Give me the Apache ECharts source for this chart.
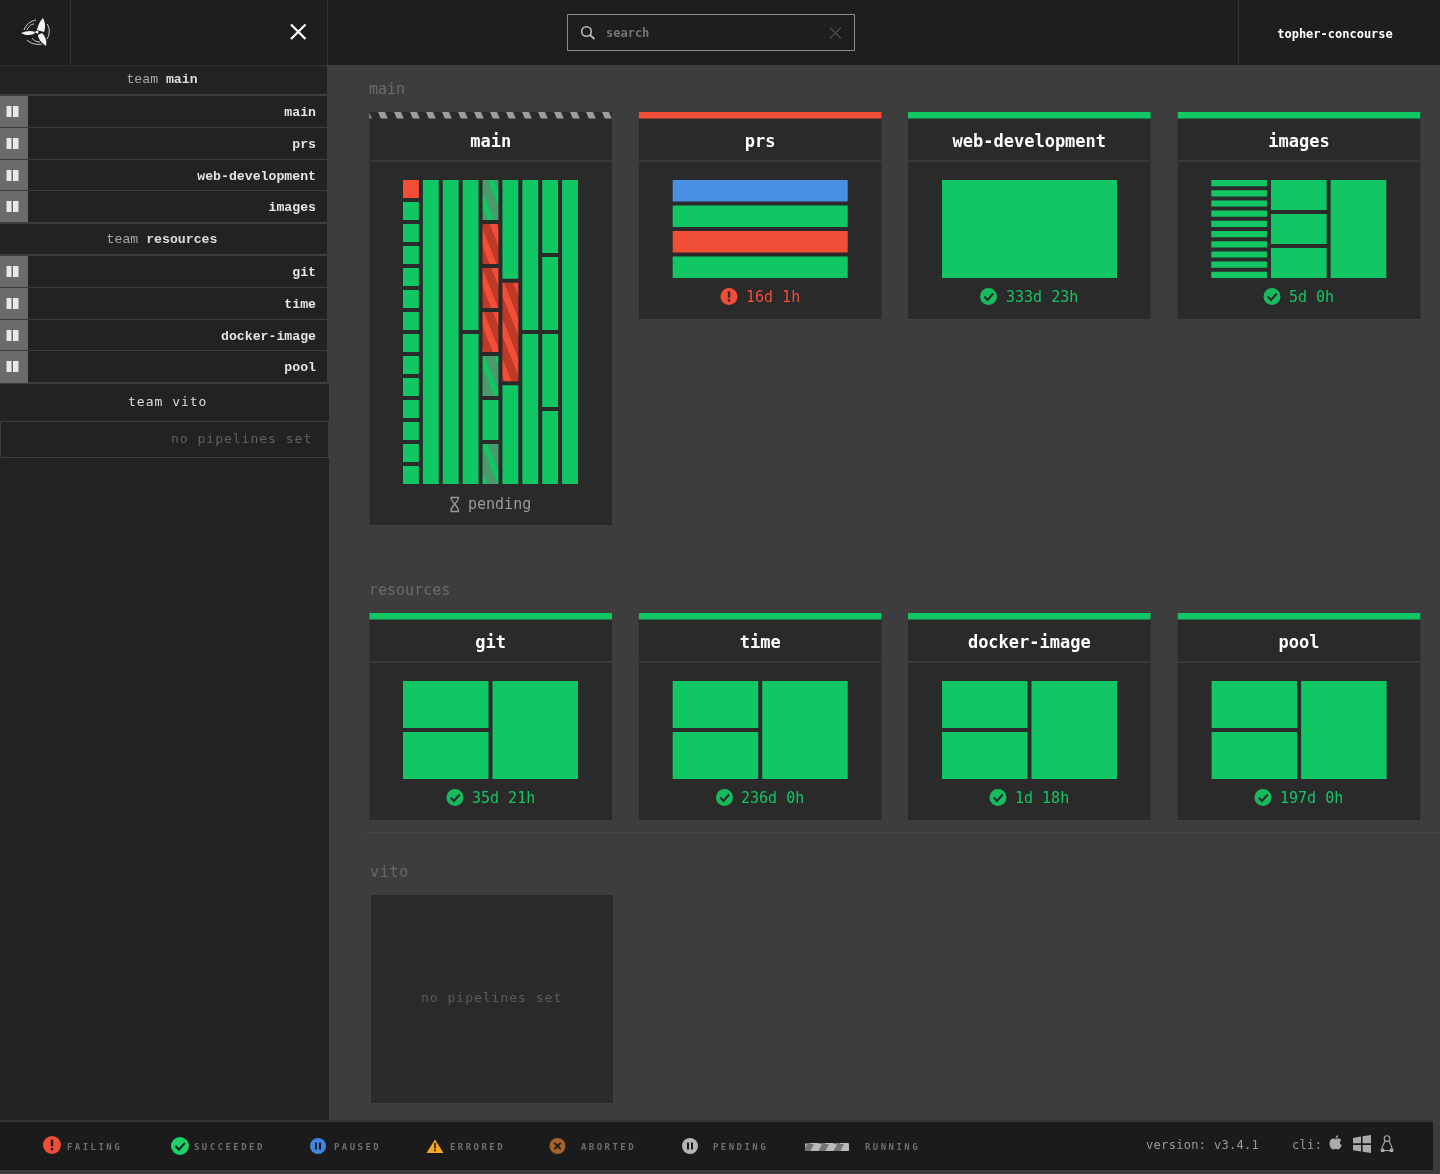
<!DOCTYPE html>
<html>
<head>
<meta charset="utf-8">
<title>concourse</title>
<script src="https://cdn.jsdelivr.net/npm/echarts@6/dist/echarts.min.js"></script>
<style>
html,body{margin:0;padding:0;background:#3d3d3d;overflow:hidden}
#page{position:relative;width:1440px;height:1174px}
#chart{position:absolute;left:0;top:0;width:1440px;height:1174px}
.sp{position:absolute;font-family:"DejaVu Sans Mono",monospace;white-space:pre;line-height:16px;height:16px}
.legend{font-size:9px;font-weight:bold;letter-spacing:2.45px;color:#6e6e6e}
</style>
</head>
<body>
<div id="page"><div id="chart"></div></div>
<script>
// status names: ok, fail, paused, runOk, runFail
const S = 'ok', F = 'fail', P = 'paused', RS = 'runOk', RF = 'runFail';

// one list per pipeline, each inner list is a column of jobs
const mainJobs = [
    [F, S, S, S, S, S, S, S, S, S, S, S, S, S],
    [S],
    [S],
    [S, S],
    [RS, RF, RF, RF, RS, S, RS],
    [S, RF, S],
    [S, S],
    [S, S, S, S],
    [S]
];
const prsJobs = [[P, S, F, S]];
const webJobs = [[S]];
const imagesJobs = [[S, S, S, S, S, S, S, S, S, S], [S, S, S], [S]];
const gitJobs = [[S, S], [S]];
const timeJobs = [[S, S], [S]];
const dockerJobs = [[S, S], [S]];
const poolJobs = [[S, S], [S]];

const pipelineNames = ['main', 'prs', 'web-development', 'images', 'git', 'time', 'docker-image', 'pool'];
const pipelineAges = ['pending', '16d 1h', '333d 23h', '5d 0h', '35d 21h', '236d 0h', '1d 18h', '197d 0h'];
const pipelineStates = ['pending', 'fail', 'ok', 'ok', 'ok', 'ok', 'ok', 'ok'];
const pipelineJobs = [mainJobs, prsJobs, webJobs, imagesJobs, gitJobs, timeJobs, dockerJobs, poolJobs];

const teamMain = ['main', 'prs', 'web-development', 'images'];
const teamResources = ['git', 'time', 'docker-image', 'pool'];
const legendLabels = ['FAILING', 'SUCCEEDED', 'PAUSED', 'ERRORED', 'ABORTED', 'PENDING', 'RUNNING'];

const GREEN = '#11c764', RED = '#f24e37', BLUE = '#4a90e2', CARD = '#2b2a2b', HEAD = '#1e1e1e', SIDE = '#222221';
const MONO = '"DejaVu Sans Mono"';

function stripes(w, h, bg, fg, sw, dx, off){
    let c = document.createElement('canvas');
    c.width = w; c.height = h;
    let g = c.getContext('2d');
    g.fillStyle = bg;
    g.fillRect(0, 0, w, h);
    g.fillStyle = fg;
    for(let k = -3; k <= 3; k++){
        let x = off + k * w;
        g.beginPath();
        g.moveTo(x, 0);
        g.lineTo(x + sw, 0);
        g.lineTo(x + sw + dx, h);
        g.lineTo(x + dx, h);
        g.closePath();
        g.fill();
    }
    return {image: c, repeat: 'repeat'};
}

const statusFill = {
    ok: GREEN,
    fail: RED,
    paused: BLUE,
    runOk: stripes(16, 40, '#4a9b6c', GREEN, 6, 16, 0),
    runFail: stripes(16, 40, '#bf3a26', RED, 7, 16, 0)
};

let g = [];
let pathCount = 0;
function rect(x, y, w, h, fill, extra){
    g.push(Object.assign({type: 'rect', silent: true, shape: {x: x, y: y, width: w, height: h}, style: {fill: fill}}, extra || {}));
}
function text(x, y, str, fill, font, align){
    g.push({type: 'text', silent: true, x: x, y: y, style: {text: str, fill: fill, font: font, textAlign: align || 'left', textVerticalAlign: 'middle'}});
}
// graphic has no plain path type, so each svg path gets its own shape class
function path(d, style){
    let name = 'svgPath' + (pathCount++);
    echarts.graphic.registerShape(name, echarts.graphic.extendPath(d, {}));
    g.push({type: name, silent: true, style: style});
}
function circle(x, y, r, fill){
    g.push({type: 'circle', silent: true, shape: {cx: x, cy: y, r: r}, style: {fill: fill}});
}
function line(d, color, w){
    path(d, {fill: 'none', stroke: color, lineWidth: w});
}
function checkIcon(x, y, r, fill, mark){
    circle(x, y, r, fill);
    line('M' + (x - r * .5) + ' ' + y + 'L' + (x - r * .12) + ' ' + (y + r * .4) + 'L' + (x + r * .55) + ' ' + (y - r * .35), mark, 2);
}
function failIcon(x, y, r, mark){
    circle(x, y, r, RED);
    rect(x - 1.2, y - r * .6, 2.4, r * .75, mark);
    rect(x - 1.2, y + r * .32, 2.4, 2.4, mark);
}
function pauseIcon(x, y, r, fill, mark){
    circle(x, y, r, fill);
    rect(x - 3, y - 3.5, 2, 7, mark);
    rect(x + 1, y - 3.5, 2, 7, mark);
}

// page chrome
rect(0, 0, 1440, 65, HEAD);
rect(70, 0, 1, 65, '#303030');
rect(327, 0, 1, 65, '#303030');
rect(1238, 0, 1, 65, '#303030');

// logo
path('M37 30C38 25 40 21 43 18C45 22 46 27 44 32C42 31 39 31 37 30Z', {fill: '#f2f2f2'});
path('M35 32C31 30 26 31 21 33C24 35 29 36 34 34Z', {fill: '#f2f2f2'});
path('M38 35C38 39 42 43 46 46C47 42 46 37 42 33C41 34 39 34 38 35Z', {fill: '#f2f2f2'});
circle(37, 32, 1.6, '#f2f2f2');
line('M24 30C26 24 31 21 36 20', '#cfcfcf', 1);
line('M27 30C28 27 31 24 34 24', '#cfcfcf', 1);
line('M27 40C31 44 37 45 42 44', '#cfcfcf', 1);
line('M32 38C34 41 37 42 40 42', '#cfcfcf', 1);
line('M47 24C50 28 50 34 47 39', '#cfcfcf', 1);

line('M291 24.5L305.5 39M305.5 24.5L291 39', '#ffffff', 2.2);

// search box
g.push({type: 'rect', silent: true, shape: {x: 567.5, y: 14.5, width: 287, height: 36}, style: {fill: 'none', stroke: '#8a8a8a', lineWidth: 1}});
g.push({type: 'circle', silent: true, shape: {cx: 586.5, cy: 31.5, r: 4.8}, style: {fill: 'none', stroke: '#bbbbbb', lineWidth: 1.6}});
line('M590 35L594.5 39', '#bbbbbb', 1.8);
text(606, 34, 'search', '#757575', 'bold 12px ' + MONO);
line('M830 27.5L841 38.5M841 27.5L830 38.5', '#4a4a4a', 1.4);
text(1335, 35, 'topher-concourse', '#ffffff', 'bold 12px ' + MONO, 'center');

// sidebar
rect(0, 65, 327, 1, '#303030');
rect(0, 66, 327, 318, SIDE);
rect(0, 384, 329, 736, SIDE);
rect(0, 94, 327, 2, '#3d3d3d');
rect(0, 222, 327, 2, '#3d3d3d');
rect(0, 254, 327, 2, '#3d3d3d');
rect(0, 382, 327, 2, '#3d3d3d');

function teamHead(y, name){
    g.push({type: 'text', silent: true, x: 162, y: y, style: {
        text: '{a|team }{b|' + name + '}', textAlign: 'center', textVerticalAlign: 'middle',
        rich: {
            a: {fill: '#a8a8a8', font: '13.2px "Liberation Mono"'},
            b: {fill: '#dddddd', font: 'bold 13.2px "Liberation Mono"'}
        }
    }});
}
function sideRows(names, tops, bottoms){
    names.forEach(function(name, i){
        rect(0, tops[i], 28, bottoms[i] - tops[i] + 1, '#6b6b6b');
        rect(6.5, tops[i] + 10, 5, 11, '#e8e8e8');
        rect(13, tops[i] + 10, 5.5, 11, '#e8e8e8');
        text(316, tops[i] + 17, name, '#e4e4e4', 'bold 13.2px "Liberation Mono"', 'right');
        if(bottoms[i] < 380) rect(0, bottoms[i], 327, 1, '#3d3d3d');
    });
}
teamHead(80, 'main');
sideRows(teamMain, [96, 128, 160, 191], [127, 159, 190, 222]);
teamHead(240, 'resources');
sideRows(teamResources, [256, 288, 320, 351], [287, 319, 350, 382]);
g.push({type: 'rect', silent: true, shape: {x: .5, y: 421.5, width: 328, height: 36}, style: {fill: 'none', stroke: '#3d3d3d', lineWidth: 1}});

// footer
rect(0, 1120, 1433, 50, '#1b1b1b');
rect(0, 1120, 1433, 2, '#333333');

// section labels and rules
text(369, 90, 'main', '#6a6a6a', '15px ' + MONO);
text(369, 591, 'resources', '#6a6a6a', '15px ' + MONO);
rect(365, 832, 1075, 1, '#444444');
rect(371, 895, 242, 208, CARD);

// cards
const cardX = [369.4, 638.9, 908, 1177.7, 369.4, 638.9, 908, 1177.7];
const cardTop = [112, 112, 112, 112, 613, 613, 613, 613];
const cardBottom = [525, 319, 319, 319, 820, 820, 820, 820];
const thumbX = [401, 670.7, 940, 1209.3, 401, 670.7, 940, 1209.6];
const iconX = [454.5, 729, 988.5, 1272, 455, 724.5, 998, 1263];
const ageX = [468, 746, 1006, 1289, 472, 741, 1015, 1280];
const runningBar = stripes(16, 7, CARD, '#9c9c9c', 7, 3, 10);

pipelineNames.forEach(function(name, i){
    let top = cardTop[i], x = cardX[i], bottom = cardBottom[i];
    rect(x, top, 242.6, bottom - top, CARD);
    let state = pipelineStates[i];
    rect(x, top, 242.6, 6.5, state === 'pending' ? runningBar : (state === 'fail' ? RED : GREEN));
    rect(x, top + 48, 242.6, 2, '#3a393a');
    text(x + 121.3, top + 31, name, '#ffffff', 'bold 17px ' + MONO, 'center');
    let ty = bottom - 22;
    if(state === 'pending'){
        line('M450.5 497.5H459M450.5 511.5H459M451 498C451 502 458.5 506 458.5 511M458.5 498C458.5 502 451 506 451 511', '#9a9a9a', 1.3);
        text(ageX[i], ty + 2, pipelineAges[i], '#9a9a9a', '15px ' + MONO);
    }else if(state === 'fail'){
        failIcon(iconX[i], ty - .5, 8.5, CARD);
        text(ageX[i], ty + 1.5, pipelineAges[i], RED, '15px ' + MONO);
    }else{
        checkIcon(iconX[i], ty - .5, 8.5, '#17bb5e', CARD);
        text(ageX[i], ty + 1.5, pipelineAges[i], GREEN, '15px ' + MONO);
    }
});

// legend icons
failIcon(52, 1145, 9, '#1b1b1b');
checkIcon(180, 1146, 9, '#1dd06a', '#1b1b1b');
pauseIcon(318, 1146, 8, '#3f86e0', '#1b1b1b');
path('M435 1139.5L443.5 1153H426.5Z', {fill: '#f5a623'});
rect(434.2, 1143, 1.6, 5.5, '#1b1b1b');
rect(434.2, 1149.6, 1.6, 1.6, '#1b1b1b');
circle(557.5, 1146, 8, '#a5632a');
line('M554.3 1142.8L560.7 1149.2M560.7 1142.8L554.3 1149.2', '#1b1b1b', 1.8);
pauseIcon(690, 1146, 8, '#b5b5b5', '#1b1b1b');
rect(805, 1143, 44, 8, stripes(15, 8, '#747474', '#b9b9b9', 8, -4, 4));

// cli icons
path('M1335.6 1139.4C1336.3 1138.6 1337 1138.5 1338.2 1138.5C1339.5 1138.5 1340.7 1139.1 1341.3 1140.2C1339.3 1141.3 1339.6 1144.2 1341.7 1145C1341 1147 1339.6 1149.5 1338.2 1149.5C1337.2 1149.5 1336.8 1148.9 1335.6 1148.9C1334.4 1148.9 1333.9 1149.5 1333 1149.5C1331.4 1149.5 1329.5 1146.2 1329.5 1143.5C1329.5 1140.5 1331.4 1138.6 1333.4 1138.6C1334.4 1138.6 1335 1139.2 1335.6 1139.4ZM1335.5 1138.4C1335.4 1136.9 1336.7 1135.3 1338.2 1135.1C1338.4 1136.7 1337 1138.4 1335.5 1138.4Z', {fill: '#aaaaaa'});
path('M1353 1138L1361 1136.6V1143.3H1353ZM1362.6 1136.3L1371 1135V1143.3H1362.6ZM1353 1145H1361V1151.6L1353 1150.2ZM1362.6 1145H1371V1153L1362.6 1151.8Z', {fill: '#aaaaaa'});
g.push({type: 'circle', silent: true, shape: {cx: 1387, cy: 1138.6, r: 2.8}, style: {fill: 'none', stroke: '#aaaaaa', lineWidth: 1.1}});
line('M1385 1141C1384 1144 1382 1146 1382 1149M1389 1141C1390 1144 1392 1146 1392 1149M1383 1150.5H1391', '#aaaaaa', 1.1);
path('M1380.5 1149L1384 1148.5L1384.5 1152H1381ZM1393.5 1149L1390 1148.5L1389.5 1152H1393Z', {fill: '#aaaaaa'});

// thumbnails, one grid per pipeline, columns and fractions go through the axes
function toJobs(columns){
    let out = [];
    columns.forEach(function(col, c){
        col.forEach(function(status, r){
            out.push({value: [c, c + 1, r / col.length, (r + 1) / col.length], status: status});
        });
    });
    return out;
}
let grids = [], xAxes = [], yAxes = [], series = [];
pipelineJobs.forEach(function(columns, i){
    let jobs = toJobs(columns);
    let topY = i < 4 ? 178 : 679;
    grids.push({left: thumbX[i], top: topY, width: 179, height: i === 0 ? 308 : 102, containLabel: false});
    xAxes.push({type: 'value', gridIndex: i, min: 0, max: columns.length, show: false});
    yAxes.push({type: 'value', gridIndex: i, min: 0, max: 1, inverse: true, show: false});
    series.push({
        type: 'custom',
        name: pipelineNames[i],
        xAxisIndex: i,
        yAxisIndex: i,
        silent: true,
        animation: false,
        clip: false,
        encode: {x: [0, 1], y: [2, 3]},
        data: jobs,
        renderItem: function(params, api){
            let a = api.coord([api.value(0), api.value(2)]);
            let b = api.coord([api.value(1), api.value(3)]);
            return {
                type: 'rect',
                shape: {x: a[0] + 2, y: a[1] + 2, width: b[0] - a[0] - 4, height: b[1] - a[1] - 4},
                style: {fill: statusFill[jobs[params.dataIndex].status]}
            };
        }
    });
});

let chart = echarts.init(document.getElementById('chart'), null, {renderer: 'canvas', width: 1440, height: 1174});
chart.setOption({
    animation: false,
    backgroundColor: '#3d3d3d',
    tooltip: {show: false},
    grid: grids,
    xAxis: xAxes,
    yAxis: yAxes,
    series: series,
    graphic: {elements: g}
});

// letter spaced labels, canvas text has no letter spacing
function spaced(x, cy, str, css, cls){
    let el = document.createElement('div');
    el.className = 'sp' + (cls ? ' ' + cls : '');
    el.textContent = str;
    el.style.cssText = 'left:' + x + 'px;top:' + (cy - 8) + 'px;' + css;
    document.getElementById('page').appendChild(el);
}
spaced(128, 402, 'team vito', 'font-size:13px;letter-spacing:1px;color:#dedede');
spaced(171, 439, 'no pipelines set', 'font-size:13px;letter-spacing:1px;color:#606060');
spaced(421, 998, 'no pipelines set', 'font-size:13px;letter-spacing:1px;color:#5c5c5c');
spaced(370, 872, 'vito', 'font-size:15px;letter-spacing:.7px;color:#686868');
const legendX = [67, 194, 334, 450, 581, 713, 865];
legendLabels.forEach(function(label, i){
    spaced(legendX[i], 1147, label, '', 'legend');
});
spaced(1146, 1145, 'version: v3.4.1', 'font-size:12px;letter-spacing:.32px;color:#9a9a9a');
spaced(1292, 1145, 'cli:', 'font-size:12px;letter-spacing:.32px;color:#9a9a9a');
</script>
</body>
</html>
